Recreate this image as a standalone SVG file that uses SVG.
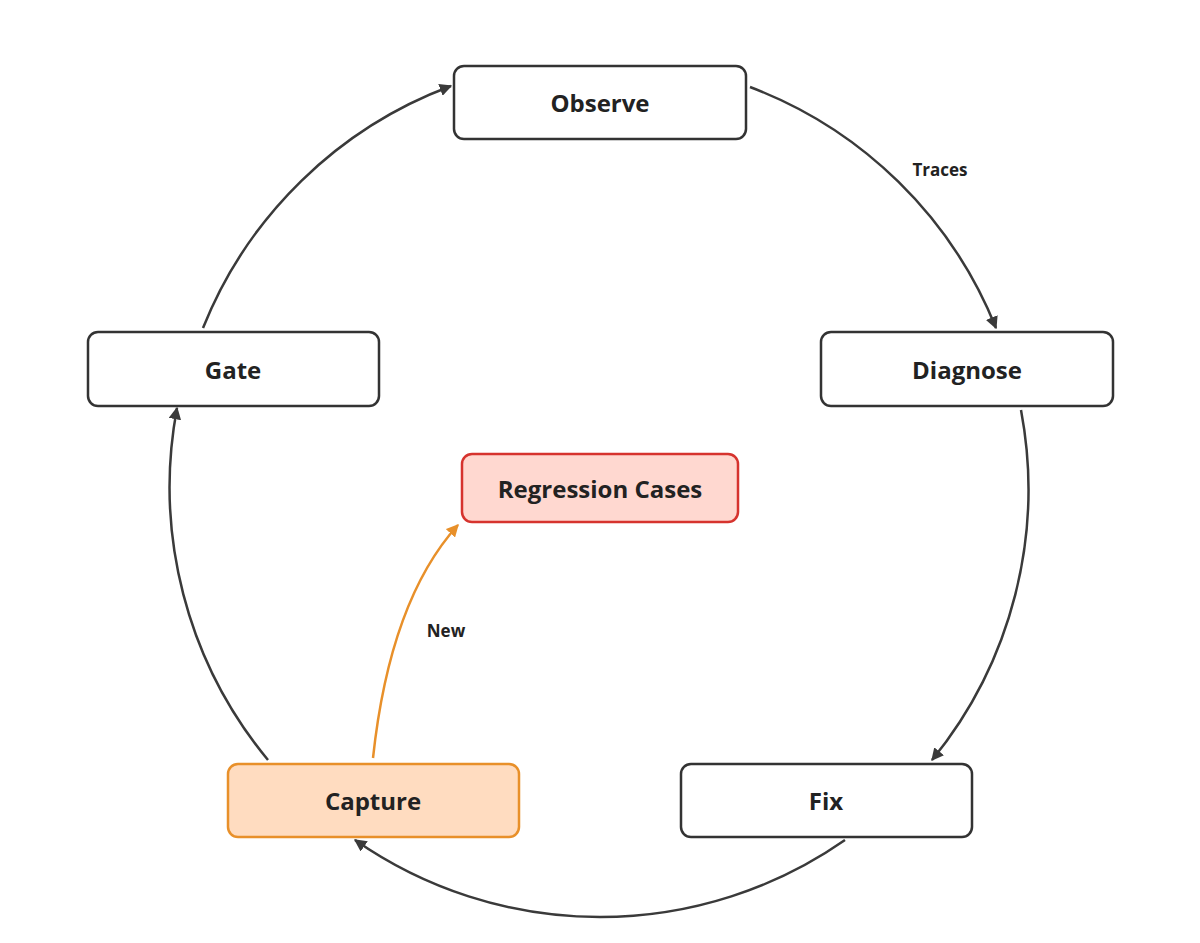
<svg xmlns="http://www.w3.org/2000/svg" width="1200" height="943" viewBox="0 0 1200 943">
<style>
.n{fill:#fff;stroke:#333;stroke-width:2.5}
.t{font-family:"Open Sans",sans-serif;font-weight:bold;font-size:24px;fill:#222;text-anchor:middle;dominant-baseline:central}
.l{font-family:"Open Sans",sans-serif;font-weight:bold;font-size:17px;fill:#222;text-anchor:middle;dominant-baseline:central}
.c{fill:none;stroke:#3a3a3a;stroke-width:2.5}
</style>
<defs>
<marker id="a" viewBox="0 0 10 10" refX="9" refY="5" markerWidth="5" markerHeight="5" orient="auto"><path d="M0,0L10,5L0,10z" fill="#3a3a3a"/></marker>
<marker id="o" viewBox="0 0 10 10" refX="9" refY="5" markerWidth="5" markerHeight="5" orient="auto"><path d="M0,0L10,5L0,10z" fill="#e8902a"/></marker>
</defs>
<rect width="1200" height="943" fill="#fff"/>
<g id="connectors">
<path class="c" d="M750,87 A428,428 0 0 1 996,328" marker-end="url(#a)"/>
<path class="c" d="M1021,410 A428,428 0 0 1 932,760" marker-end="url(#a)"/>
<path class="c" d="M845,840 A428,428 0 0 1 355,840" marker-end="url(#a)"/>
<path class="c" d="M268,760 A428,428 0 0 1 177,408" marker-end="url(#a)"/>
<path class="c" d="M203,328 A428,428 0 0 1 451,86" marker-end="url(#a)"/>
<path d="M373,758 Q390,600 458,525" fill="none" stroke="#e8902a" stroke-width="2.5" marker-end="url(#o)"/>
<text class="l" x="940" y="169">Traces</text>
<text class="l" x="446" y="630">New</text>
</g>
<g id="observe"><rect class="n" x="454" y="66" width="292" height="73" rx="10"/><text class="t" x="600" y="102">Observe</text></g>
<g id="gate"><rect class="n" x="88" y="332" width="291" height="74" rx="10"/><text class="t" x="233" y="369">Gate</text></g>
<g id="diagnose"><rect class="n" x="821" y="332" width="292" height="74" rx="10"/><text class="t" x="967" y="369">Diagnose</text></g>
<g id="regression"><rect x="462" y="454" width="276" height="68" rx="10" fill="#ffd8d0" stroke="#d6332e" stroke-width="2.5"/><text class="t" x="600" y="488">Regression Cases</text></g>
<g id="capture"><rect x="228" y="764" width="291" height="73" rx="10" fill="#ffdcc0" stroke="#e8902a" stroke-width="2.5"/><text class="t" x="373" y="800">Capture</text></g>
<g id="fix"><rect class="n" x="681" y="764" width="291" height="73" rx="10"/><text class="t" x="826" y="800">Fix</text></g>
</svg>
